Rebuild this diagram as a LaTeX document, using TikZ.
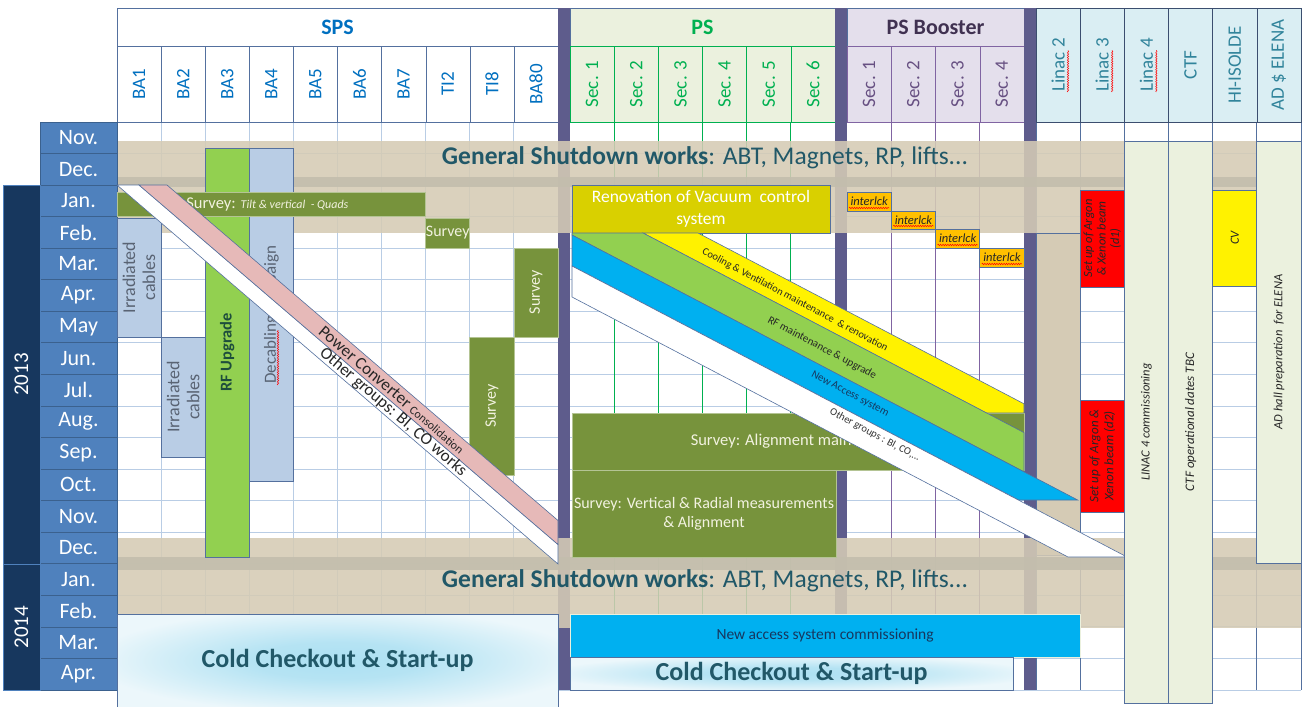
\documentclass[tikz,border=0pt]{standalone}
\usepackage{fontspec}
\setmainfont{Carlito}
\usetikzlibrary{positioning,fit,shadings,decorations.pathmorphing}

\definecolor{SpsBlue}{RGB}{0,112,192}
\definecolor{MonthBlue}{RGB}{79,129,189}
\definecolor{YearNavy}{RGB}{23,55,94}
\definecolor{GridLine}{RGB}{185,205,229}
\definecolor{FrameLine}{RGB}{84,112,158}
\definecolor{SepBar}{RGB}{94,92,140}
\definecolor{PsGreen}{RGB}{0,176,80}
\definecolor{PsFill}{RGB}{235,241,222}
\definecolor{PsbFill}{RGB}{228,223,236}
\definecolor{PsbText}{RGB}{64,49,81}
\definecolor{PsbLine}{RGB}{128,100,162}
\definecolor{LinFill}{RGB}{218,238,243}
\definecolor{LinText}{RGB}{49,132,155}
\definecolor{ShutBeige}{RGB}{213,203,181}
\definecolor{ShutDark}{RGB}{195,190,173}
\definecolor{ShutText}{RGB}{33,88,104}
\definecolor{SurveyOlive}{RGB}{119,147,60}
\definecolor{SurveyText}{RGB}{242,242,224}
\definecolor{CableBlue}{RGB}{185,205,229}
\definecolor{CableText}{RGB}{89,99,115}
\definecolor{RfGreen}{RGB}{146,208,80}
\definecolor{RfText}{RGB}{30,78,60}
\definecolor{PcPink}{RGB}{230,185,184}
\definecolor{VacYellow}{RGB}{217,208,0}
\definecolor{AccessBlue}{RGB}{0,176,240}
\definecolor{IlkOrange}{RGB}{255,192,0}
\definecolor{CheckIn}{RGB}{172,224,242}
\definecolor{CheckOut}{RGB}{236,247,251}

\newcommand{\txtsize}[2]{\fontsize{#1}{#2}\selectfont}
\pgfdeclareradialshading{coldglow}{\pgfpoint{0bp}{0bp}}{color(0bp)=(CheckIn); color(10bp)=(CheckIn!85!CheckOut); color(28bp)=(CheckOut); color(50bp)=(CheckOut)}

\begin{document}
\begin{tikzpicture}[x=1pt, y=-1pt,
    hdr/.style={draw=FrameLine, inner sep=0pt, outer sep=0pt},
    bar/.style={draw=FrameLine, line width=0.7pt, inner sep=0pt, outer sep=0pt},
    survey/.style={bar, draw=SurveyOlive!55!white, fill=SurveyOlive},
    colname/.style={rotate=90, inner sep=0pt, font=\txtsize{19}{21}},
    vtext/.style={rotate=90, align=center, inner sep=0pt},
    mon/.style={draw=MonthBlue!75!black, line width=0.8pt, fill=MonthBlue, inner sep=0pt, outer sep=0pt},
    shut/.style={fill=ShutBeige, fill opacity=0.88},
    shutdk/.style={fill=ShutDark, fill opacity=0.9},
    band/.style={draw=FrameLine, line width=0.6pt},
    wiggle/.style={red, line width=0.5pt, decorate, decoration={snake, amplitude=0.7pt, segment length=2.4pt}},
    checkout/.style={bar, shading=coldglow},
  ]
\useasboundingbox (0,0) rectangle (1307,707);

% grid body: one row per month (31.556 high), from Nov. 2012 on
\fill[white] (117,122) rectangle (1301,690);
\foreach \k in {1,...,18}
  \draw[GridLine, line width=0.9pt] (117,{122+31.556*\k}) -- (1301,{122+31.556*\k});
\foreach \i in {1,...,9}
  \draw[GridLine, line width=0.9pt] ({117+44.1*\i},122) -- ({117+44.1*\i},690);
\foreach \i in {1,...,5}
  \draw[PsGreen, line width=0.7pt] ({570+44.1667*\i},122) -- ({570+44.1667*\i},690);
\foreach \i in {1,...,3}
  \draw[PsbLine, line width=0.7pt] ({847+44.25*\i},122) -- ({847+44.25*\i},690);
\foreach \i in {0,...,6}
  \draw[FrameLine, line width=0.7pt] ({1036+44.1667*\i},122) -- ({1036+44.1667*\i},690);

% headers
\node[hdr, fill=white, fit={(117,8)(558,46)}] (sps) {};
\node[text=SpsBlue, font=\txtsize{22}{24}\bfseries] at (sps) {SPS};
\foreach \lbl [count=\i from 0] in {BA1,BA2,BA3,BA4,BA5,BA6,BA7,TI2,TI8,BA80}{
  \node[hdr, fill=white, fit={({117+44.1*\i},46)({161.1+44.1*\i},122)}] (sps\i) {};
  \node[colname, text=SpsBlue] at (sps\i) {\lbl};
}
\node[hdr, fill=PsFill, fit={(570,8)(835,46)}] (ps) {};
\node[text=PsGreen, font=\txtsize{22}{24}\bfseries] at (ps) {PS};
\foreach \i [count=\n] in {0,...,5}{
  \node[hdr, draw=PsGreen, fill=PsFill, fit={({570+44.1667*\i},46)({614.1667+44.1667*\i},122)}] (ps\n) {};
  \node[colname, text=PsGreen] at (ps\n) {Sec. \n};
}
\node[hdr, fill=PsbFill, fit={(847,8)(1024,46)}] (psb) {};
\node[text=PsbText, font=\txtsize{22}{24}\bfseries] at (psb) {PS Booster};
\foreach \i [count=\n] in {0,...,3}{
  \node[hdr, draw=PsbLine, fill=PsbFill, fit={({847+44.25*\i},46)({891.25+44.25*\i},122)}] (psb\n) {};
  \node[colname, text=PsbLine!80!black] at (psb\n) {Sec. \n};
}
\foreach \lbl [count=\i from 0] in {Linac 2,Linac 3,Linac 4,CTF,HI-ISOLDE,AD \$ ELENA}{
  \node[hdr, draw=FrameLine!70!black, fill=LinFill, fit={({1036+44.1667*\i},8)({1080.1667+44.1667*\i},122)}] (lin\i) {};
  \node[colname, text=LinText] at (lin\i) {\lbl};
}
\foreach \i in {0,1,2}
  \draw[wiggle] ({1068+44.1667*\i},92) -- ({1068+44.1667*\i},50);

% machine separators
\foreach \xa in {558,835,1024}
  \fill[SepBar] (\xa,8) rectangle ({\xa+12},690);

% Linac 2 stopped all year
\node[bar, fill=ShutBeige, fit={(1036,233)(1080.17,555)}] (lin2off) {};

% general shutdown bands
\fill[shut] (117,141) rectangle (1301,233);
\fill[shutdk] (117,177) rectangle (1301,187);
\fill[shut] (117,538) rectangle (1301,628);
\fill[shutdk] (117,557) rectangle (1301,570);

% months and years
\foreach \m [count=\k from 0] in {Nov.,Dec.,Jan.,Feb.,Mar.,Apr.,May,Jun.,Jul.,Aug.,Sep.,Oct.,Nov.,Dec.,Jan.,Feb.,Mar.,Apr.}{
  \node[mon, fit={(40,{122+31.556*\k})(117,{153.556+31.556*\k})}] (m\k) {};
  \node[text=white, font=\txtsize{22}{24}] at (m\k) {\m};
}
\node[bar, draw=MonthBlue, fill=YearNavy, fit={(3,185)(40,564)}] (y13) {};
\node[rotate=90, text=white, font=\txtsize{21}{23}] at (y13) {2013};
\node[bar, draw=MonthBlue, fill=YearNavy, fit={(3,564)(40,690)}] (y14) {};
\node[rotate=90, text=white, font=\txtsize{21}{23}] at (y14) {2014};

% SPS works
\node[bar, fill=CableBlue, fit={(117,218)(161.1,337)}] (cab1) {};
\node[vtext, text=CableText, font=\txtsize{18}{20}] at (cab1) {Irradiated\\cables};
\node[bar, fill=CableBlue, fit={(161.1,337)(205.2,457)}] (cab2) {};
\node[vtext, text=CableText, font=\txtsize{18}{20}] at (cab2) {Irradiated\\cables};
\node[bar, fill=RfGreen, fit={(205.2,148)(249.3,557)}] (rfup) {};
\node[vtext, text=RfText, font=\txtsize{16.5}{18}\bfseries] at (rfup) {RF Upgrade};
\node[bar, fill=CableBlue, fit={(249.3,148)(293.4,481)}] (decab) {};
\node[vtext, text=CableText, font=\txtsize{17}{19}] at (decab) {Decabling campaign};
\draw[wiggle] (278,385) -- (278,330);
\node[survey, fit={(117,192)(425.7,216)}] (svtilt) {};
\node[text=SurveyText, font=\txtsize{16.5}{18}] at ([xshift=-4pt]svtilt.center) {Survey: {\itshape\txtsize{12}{13}Tilt \& vertical\ \ - Quads}};
\node[survey, fit={(425.7,218)(469.8,248)}] (svti2) {};
\node[text=SurveyText, font=\txtsize{16}{18}] at (svti2) {Survey};
\node[survey, fit={(469.8,337)(513.9,475)}] (svti8) {};
\node[vtext, text=SurveyText, font=\txtsize{16}{18}] at (svti8) {Survey};
\node[survey, fit={(513.9,248)(558,337)}] (svba80) {};
\node[vtext, text=SurveyText, font=\txtsize{16}{18}] at (svba80) {Survey};

% SPS transversal activities
\draw[band, fill=white] (117,185) -- (139,185) -- (558,544.5) -- (558,564) -- cycle;
\draw[band, fill=PcPink] (139,185) -- (167,185) -- (558,520.5) -- (558,544.5) -- cycle;
\node[rotate=-40.6, text=black!85, font=\txtsize{17}{19}] (pctxt) at (392,390) {Power Converter {\txtsize{12}{13}Consolidation}};
\node[rotate=-40.6, text=black!85, font=\txtsize{17}{19}] (othtxt) at (393,412) {Other groups: BI, CO works};

% PS works
\node[bar, fill=VacYellow, fit={(572,185)(830,233)}] (vac) {};
\node[text=white, align=center, font=\txtsize{17.5}{22}] at (vac) {Renovation of Vacuum\ \ control\\system};
\node[survey, fit={(572,413)(1024,470)}] (svalign) {};
\node[text=SurveyText, font=\txtsize{16.5}{18}] at (svalign) {Survey: Alignment maintenance};

% PS transversal activities
\draw[band, fill=yellow] (698,233) -- (1024,403.8) -- (1024,413) -- (986.5,413) -- (643,233) -- cycle;
\draw[band, fill=RfGreen] (643,233) -- (1024,432.6) -- (1024,471.8) -- (572,235) -- (572,233) -- cycle;
\draw[band, fill=AccessBlue] (572,235) -- (1077.7,500) -- (1018.6,500) -- (572,266) -- cycle;
\draw[band, fill=white] (572,266) -- (1127,557) -- (1068,557) -- (572,297) -- cycle;
\node[rotate=-28, text=black!85, font=\txtsize{10.5}{12}] (cvtxt) at (795,300) {Cooling \& Ventilation maintenance\ \ \& renovation};
\node[rotate=-28, text=black!85, font=\txtsize{11}{12}] (rftxt) at (822,348) {RF maintenance \& upgrade};
\node[rotate=-28, text=YearNavy, font=\txtsize{11}{12}] (nastxt) at (850,394) {New Access system};
\node[rotate=-28, text=black!80, font=\txtsize{10.5}{12}] (grptxt) at (875,435) {Other groups : BI, CO,...};

\node[survey, fit={(572,470)(836,557)}] (svvert) {};
\node[text=SurveyText, align=center, font=\txtsize{16}{19}] at (svvert) {Survey: Vertical \& Radial measurements\\\& Alignment};

% PS Booster interlocks, one sector after the other
\foreach \i/\ya/\yb in {0/192/211, 1/211/229, 2/229/248, 3/248/267}{
  \node[bar, fill=IlkOrange, fit={({847+44.25*\i},\ya)({891.25+44.25*\i},\yb)}] (ilk\i) {};
  \node[text=black!85, font=\txtsize{12.5}{13}\itshape] at (ilk\i) {interlck};
  \draw[wiggle] ({849+44.25*\i},{\yb-3}) -- ({889+44.25*\i},{\yb-3});
}

% Linac 3, HI-ISOLDE, Linac 4, CTF, AD
\node[bar, fill=red, fit={(1080.17,190)(1124.33,287)}] (ion1) {};
\node[vtext, text=black!85, font=\txtsize{12.5}{13.5}\itshape] at (ion1) {Set up of Argon\\\& Xenon beam\\(d1)};
\node[bar, fill=red, fit={(1080.17,400)(1124.33,512)}] (ion2) {};
\node[vtext, text=black!85, font=\txtsize{13}{15}\itshape] at (ion2) {Set up of Argon \&\\Xenon beam (d2)};
\node[bar, fill=yellow, fit={(1212.67,190)(1256.83,286)}] (cv) {};
\node[vtext, text=black!85, font=\txtsize{12.5}{14}\itshape] at (cv) {CV};
\node[bar, fill=PsFill, fit={(1124.33,141)(1168.5,703)}] (l4com) {};
\node[vtext, text=black!85, font=\txtsize{12.5}{14}\itshape] at (l4com) {LINAC 4 commissioning};
\node[bar, fill=PsFill, fit={(1168.5,141)(1212.67,703)}] (ctf) {};
\node[vtext, text=black!85, font=\txtsize{13}{14}\itshape] at (ctf) {CTF operational dates TBC};
\node[bar, fill=PsFill, fit={(1256.83,141)(1301,563)}] (adhall) {};
\node[vtext, text=black!85, font=\txtsize{12.5}{14}\itshape] at (adhall) {AD hall preparation\ \ for ELENA};

% shutdown texts
\node[text=ShutText, font=\txtsize{25.5}{28}] (gs13) at (705,158) {\textbf{General Shutdown works}: ABT, Magnets, RP, lifts...};
\node[text=ShutText, font=\txtsize{25.5}{28}] (gs14) at (705,581) {\textbf{General Shutdown works}: ABT, Magnets, RP, lifts...};

% restart
\node[checkout, fit={(117,614)(558,707)}] (cosps) {};
\node[text=ShutText, font=\txtsize{26}{28}\bfseries] at (cosps) {Cold Checkout \& Start-up};
\node[bar, draw=PsFill, fill=AccessBlue, fit={(570,614)(1080.17,657)}] (nacom) {};
\node[text=YearNavy, font=\txtsize{15.5}{17}] at (nacom) {New access system commissioning};
\node[checkout, fit={(570,657)(1013,690)}] (cops) {};
\node[text=ShutText, font=\txtsize{26}{28}\bfseries] at (cops) {Cold Checkout \& Start-up};
\end{tikzpicture}
\end{document}
